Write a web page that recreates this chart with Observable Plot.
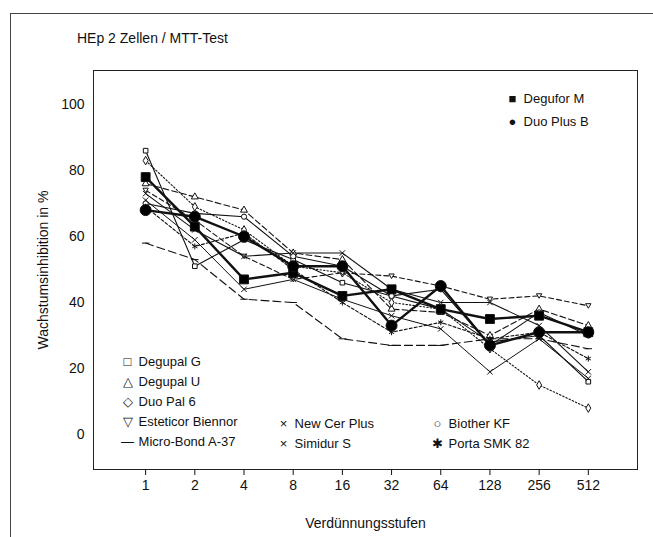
<!DOCTYPE html>
<html><head><meta charset="utf-8">
<script src="https://cdn.jsdelivr.net/npm/d3@7"></script>
<script src="https://cdn.jsdelivr.net/npm/@observablehq/plot@0.6"></script>
<style>
body{margin:0;background:#fff;font-family:"Liberation Sans",Arial,sans-serif;color:#111}
#wrap{position:relative;width:653px;height:537px;overflow:hidden}
#frame{position:absolute;left:10px;top:13px;width:700px;height:600px;border-left:1px solid #444;border-top:1px solid #444;pointer-events:none}
#title{position:absolute;left:77px;top:30px;font-size:14px}
.lg{position:absolute;font-size:13px;white-space:nowrap;line-height:20px}
.lg span{display:inline-block;width:15px;text-align:center}
#chart{position:absolute;left:0;top:0}
</style></head>
<body>
<div id="wrap">
<div id="chart"></div>
<div id="frame"></div>
<div id="title">HEp 2 Zellen / MTT-Test</div>
<div id="legends"></div>
</div>
<script>
const dilutions = [1, 2, 4, 8, 16, 32, 64, 128, 256, 512];
const yTicks = [0, 20, 40, 60, 80, 100];

const degupalG   = [86, 51, 59, 53, 46, 42, 38, 28, 30, 16];
const degupalU   = [76, 72, 68, 55, 53, 38, 37, 30, 38, 33];
const duoPal6    = [83, 69, 62, 51, 49, 40, 38, 26, 15, 8];
const esteticor  = [74, 65, 54, 47, 49, 48, 45, 41, 42, 39];
const microBond  = [58, 53, 41, 40, 29, 27, 27, 29, 29, 26];
const newCerPlus = [73, 62, 54, 55, 55, 44, 40, 40, 33, 19];
const simidurS   = [71, 59, 44, 47, 41, 36, 32, 19, 29, 17];
const biotherKF  = [70, 67, 66, 54, 51, 42, 44, 27, 37, 30];
const portaSMK   = [69, 57, 61, 50, 40, 31, 34, 29, 31, 23];
const deguforM   = [78, 63, 47, 49, 42, 44, 38, 35, 36, 31];
const duoPlusB   = [68, 66, 60, 51, 51, 33, 45, 27, 31, 31];

const seriesNames = ["Degupal G","Degupal U","Duo Pal 6","Esteticor Biennor","Micro-Bond A-37","New Cer Plus","Simidur S","Biother KF","Porta SMK 82","Degufor M","Duo Plus B"];
const seriesValues = [degupalG, degupalU, duoPal6, esteticor, microBond, newCerPlus, simidurS, biotherKF, portaSMK, deguforM, duoPlusB];

// custom symbols
const triDown = {draw(ctx, size){const r=Math.sqrt(size/3);ctx.moveTo(-r,-r*0.8);ctx.lineTo(r,-r*0.8);ctx.lineTo(0,r*0.9);ctx.closePath();}};
const dash = {draw(ctx, size){const r=Math.sqrt(size)*0.7;ctx.moveTo(-r,0);ctx.lineTo(r,0);}};
const styles = {
  "Degupal G":        {symbol:"square",   r:2.6, fill:"white", dash:null, w:1.1},
  "Degupal U":        {symbol:"triangle", r:2.6, fill:"white", dash:"6,3", w:1.1},
  "Duo Pal 6":        {symbol:"diamond",  r:2.6, fill:"white", dash:"1.5,2", w:1.1},
  "Esteticor Biennor":{symbol:triDown,    r:2.6, fill:"white", dash:"5,3", w:1.1},
  "Micro-Bond A-37":  {symbol:dash,       r:3,   fill:"none",  dash:"8,4", w:1.1},
  "New Cer Plus":     {symbol:"times",    r:2.6, fill:"none",  dash:null, w:1.1},
  "Simidur S":        {symbol:"times",    r:2.6, fill:"none",  dash:null, w:1},
  "Biother KF":       {symbol:"circle",   r:2.6, fill:"white", dash:null, w:1.1},
  "Porta SMK 82":     {symbol:"asterisk", r:2.8, fill:"none",  dash:"3,2", w:1.1},
  "Degufor M":        {symbol:"square",   r:5,   fill:"black", dash:null, w:2.4},
  "Duo Plus B":       {symbol:"circle",   r:5.5, fill:"black", dash:null, w:2.4}
};

const rows = [];
seriesNames.forEach((name, i) => seriesValues[i].forEach((v, j) => rows.push({series: name, dilution: dilutions[j], value: v})));

const marks = [Plot.frame({stroke:"#222"})];
seriesNames.forEach(name => {
  const s = styles[name];
  const data = rows.filter(d => d.series === name);
  marks.push(Plot.line(data, {x:"dilution", y:"value", stroke:"#111", strokeWidth:s.w, strokeDasharray:s.dash}));
});
seriesNames.forEach(name => {
  const s = styles[name];
  const data = rows.filter(d => d.series === name);
  marks.push(Plot.dot(data, {x:"dilution", y:"value", symbol:s.symbol, r:s.r, fill:s.fill, stroke:"#111", strokeWidth:1}));
});
marks.push(Plot.axisX({ticks: dilutions, tickFormat: d => d, tickSize: 6, tickPadding: 5, fontSize: 14, label: "Verdünnungsstufen", labelAnchor: "center", labelArrow: "none", labelOffset: 58}));
marks.push(Plot.axisY({ticks: yTicks, tickSize: 0, tickPadding: 9, fontSize: 14, label: "Wachstumsinhibition in %", labelAnchor: "center", labelArrow: "none", labelOffset: 55}));

const chart = Plot.plot({
  width: 653, height: 537,
  marginLeft: 93, marginRight: 16, marginTop: 70, marginBottom: 68,
  style: {fontFamily: '"Liberation Sans", Arial, sans-serif', fontSize: "14px", color: "#111", background: "transparent"},
  x: {type: "log", base: 2, domain: [Math.pow(2, -1.06), 1024]},
  y: {domain: [-10.6, 110.3]},
  marks
});
document.getElementById("chart").appendChild(chart);

// legends (HTML overlay)
const leg = document.getElementById("legends");
const glyph = {"Degupal G":"□","Degupal U":"△","Duo Pal 6":"◇","Esteticor Biennor":"▽","Micro-Bond A-37":"—","New Cer Plus":"×","Simidur S":"×","Biother KF":"○","Porta SMK 82":"✱","Degufor M":"■","Duo Plus B":"●"};
const legendTopRight = ["Degufor M","Duo Plus B"];
const legendCol1 = ["Degupal G","Degupal U","Duo Pal 6","Esteticor Biennor","Micro-Bond A-37"];
const legendCol2 = ["New Cer Plus","Simidur S"];
const legendCol3 = ["Biother KF","Porta SMK 82"];
function addCol(names, left, top, step){
  names.forEach((n,i)=>{
    const d=document.createElement("div");d.className="lg";
    d.style.left=left+"px";d.style.top=(top+i*step)+"px";
    d.innerHTML=`<span>${glyph[n]}</span> ${n}`;
    leg.appendChild(d);
  });
}
addCol(legendTopRight, 505, 89, 23);
addCol(legendCol1, 120, 352, 20);
addCol(legendCol2, 276, 414, 20);
addCol(legendCol3, 430, 414, 20);
</script>
</body></html>
